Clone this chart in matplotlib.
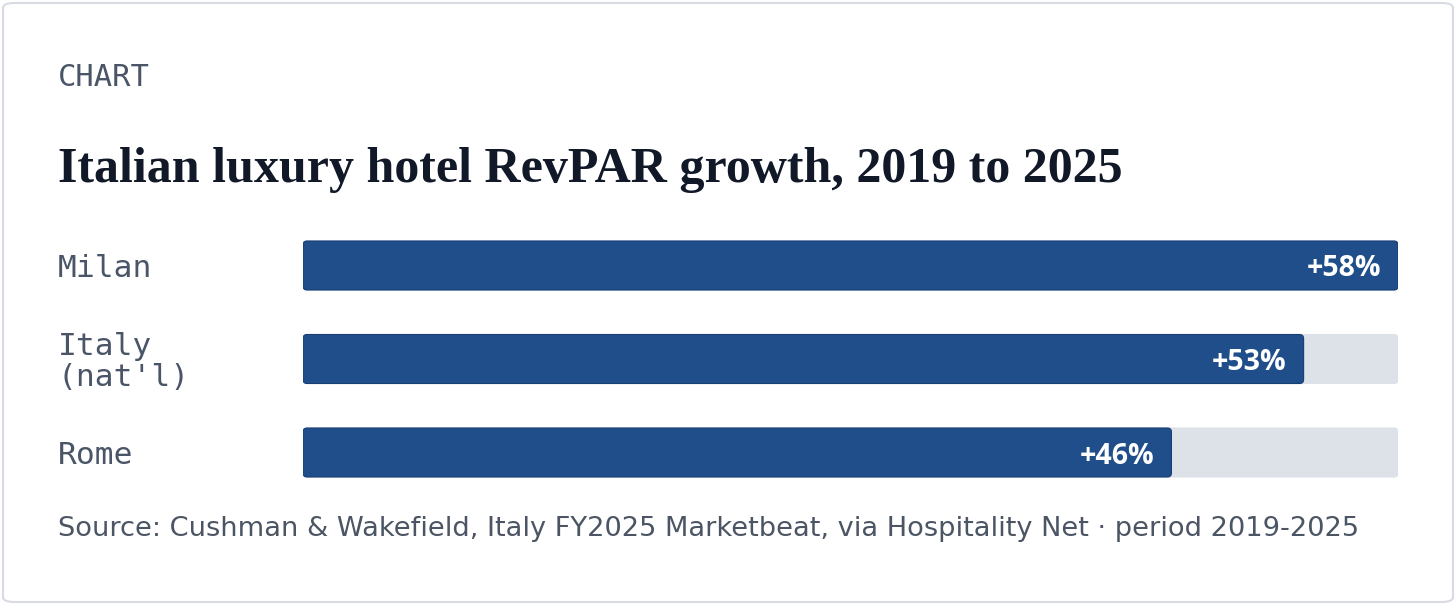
import matplotlib
matplotlib.use("Agg")
import matplotlib.pyplot as plt
from matplotlib.patches import FancyBboxPatch
import matplotlib.transforms as mtransforms

categories = ["Milan", "Italy\n(nat'l)", "Rome"]
values = [58, 53, 46]
value_labels = ["+58%", "+53%", "+46%"]
title = "Italian luxury hotel RevPAR growth, 2019 to 2025"
kicker = "CHART"
source = "Source: Cushman & Wakefield, Italy FY2025 Marketbeat, via Hospitality Net \u00b7 period 2019-2025"

W, H = 1456, 605
DPI = 100
fig = plt.figure(figsize=(W / DPI, H / DPI), dpi=DPI)
fig.patch.set_facecolor("white")

BAR = "#1f4e8a"
TRACK = "#dde1e8"
LABEL = "#4a5568"
TITLE = "#111827"
SRC = "#4b5563"

# card border
card = FancyBboxPatch((3 / W, 3 / H), (W - 6) / W, (H - 6) / H,
                      boxstyle="round,pad=0,rounding_size=0.008",
                      transform=fig.transFigure, facecolor="none",
                      edgecolor="#d8dce2", linewidth=1.5, zorder=-5)
fig.patches.append(card)

# axes placement in pixels
x0, x1 = 303, 1398
pitch = 93.5
top = 265.5 - pitch / 2
ax_h = pitch * 3
ax = fig.add_axes([x0 / W, 1 - (top + ax_h) / H, (x1 - x0) / W, ax_h / H])
ax.set_xlim(0, max(values))
ax.set_ylim(2.5, -0.5)
ax.axis("off")

ypos = list(range(len(categories)))
bh = 49 / pitch
track = ax.barh(ypos, [max(values)] * len(values), height=bh, color=TRACK, zorder=1)
bars = ax.barh(ypos, values, height=bh, color=BAR, zorder=2)

# round corners
ppx = (x1 - x0) / max(values)  # pixels per x unit
ppy = pitch  # pixels per y unit
r_px = 4
for cont, col in ((track, TRACK), (bars, BAR)):
    for p in cont.patches:
        x, y = p.get_x(), p.get_y()
        w, h = p.get_width(), p.get_height()
        p.set_visible(False)
        fb = FancyBboxPatch((x, y), w, h,
                            boxstyle=f"round,pad=0,rounding_size={r_px / ppx}",
                            mutation_aspect=ppx / ppy,
                            facecolor=col, edgecolor=col if col == TRACK else "#173f75",
                            linewidth=0.8, zorder=p.get_zorder())
        ax.add_patch(fb)

# value labels
for yv, v, lab in zip(ypos, values, value_labels):
    off = mtransforms.offset_copy(ax.transData, fig=fig, x=-17, y=0, units="dots")
    ax.text(v, yv, lab, transform=off, ha="right", va="center_baseline",
            color="white", fontsize=20.5, fontweight="bold", family="Open Sans", zorder=3)

# category labels at fixed figure x
blend = mtransforms.blended_transform_factory(fig.transFigure, ax.transData)
blend = mtransforms.offset_copy(blend, fig=fig, x=0, y=-3, units="dots")
for yv, c in zip(ypos, categories):
    ax.text(58 / W, yv, c, transform=blend, ha="left", va="center",
            color=LABEL, fontsize=22.5, family="DejaVu Sans Mono", linespacing=1.12)

# kicker
fig.text(58 / W, 1 - 77 / H, kicker, ha="left", va="center", color=LABEL,
         fontsize=22, family="DejaVu Sans Mono")

# title
t = fig.text(58 / W, 1 - 182 / H, title, ha="left", va="baseline", color=TITLE,
             fontsize=36, fontweight="bold", family="Liberation Serif")

# source
s = fig.text(58 / W, 1 - 536 / H, source, ha="left", va="baseline", color=SRC,
             fontsize=20, family="DejaVu Sans")

# fit widths
fig.canvas.draw()
r = fig.canvas.get_renderer()
for txt, target in ((t, 1066), (s, 1297)):
    wpx = txt.get_window_extent(r).width
    txt.set_fontsize(txt.get_fontsize() * target / wpx)

fig.savefig("out.png", dpi=DPI, facecolor="white")
